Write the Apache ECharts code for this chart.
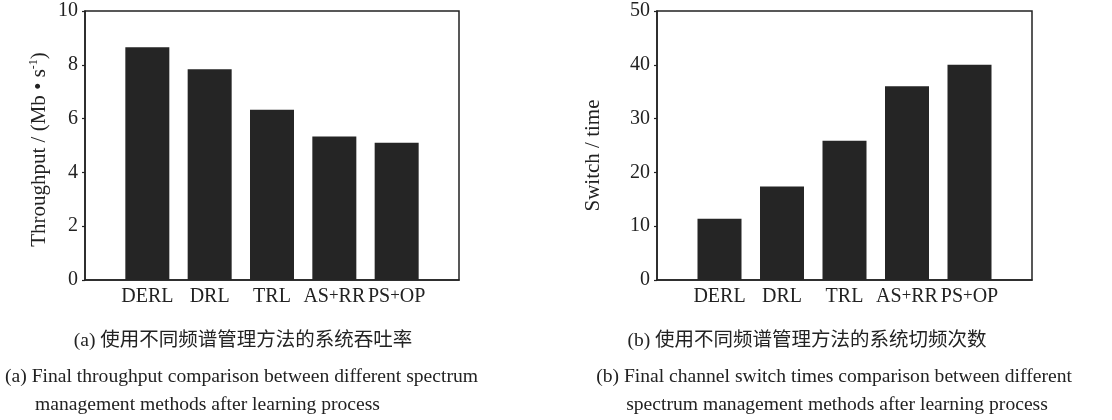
<!DOCTYPE html>
<html>
<head>
<meta charset="utf-8">
<script src="https://cdn.jsdelivr.net/npm/echarts@6/dist/echarts.min.js"></script>
<style>
html,body{margin:0;padding:0;background:#fff;}
#c{width:1112px;height:420px;}
</style>
</head>
<body>
<div id="c"></div>
<script>
// ---- data ----
var methods = ['DERL', 'DRL', 'TRL', 'AS+RR', 'PS+OP'];
var throughput = [8.65, 7.83, 6.33, 5.33, 5.10];
var switchTimes = [11.4, 17.4, 25.9, 36.0, 40.0];
var throughputTicks = { min: 0, max: 10, interval: 2 };
var switchTicks = { min: 0, max: 50, interval: 10 };
var captionA_cn = '(a) 使用不同频谱管理方法的系统吞吐率';
var captionA_en1 = '(a) Final throughput comparison between different spectrum';
var captionA_en2 = 'management methods after learning process';
var captionB_cn = '(b) 使用不同频谱管理方法的系统切频次数';
var captionB_en1 = '(b) Final channel switch times comparison between different';
var captionB_en2 = 'spectrum management methods after learning process';

// ---- build ----
var serif = '"Liberation Serif", "Times New Roman", serif';
var ink = '#222';
var cats = [''].concat(methods, ['']);
function pad(arr) { return [null].concat(arr, [null]); }

function xAxis(gi) {
  return {
    type: 'category', gridIndex: gi, data: cats, boundaryGap: false,
    axisLine: { lineStyle: { color: ink, width: 1.5 } },
    axisTick: { show: false },
    axisLabel: {
      color: ink, fontFamily: serif, fontSize: 20, margin: 7, interval: 0,
      formatter: function (v) {
        return v.split('+').map(function (s) { return '{n|' + s + '}'; }).join('{p|+}');
      },
      rich: {
        n: { fontFamily: serif, fontSize: 20, color: ink },
        p: { fontFamily: serif, fontSize: 17, color: ink, padding: [0, 0, 3, 0] }
      }
    },
    splitLine: { show: false }
  };
}
function yAxis(gi, t, name, gap, shift) {
  return {
    type: 'value', gridIndex: gi, min: t.min, max: t.max, interval: t.interval,
    name: name, nameLocation: 'middle', nameGap: gap,
    nameTextStyle: {
      color: ink, fontFamily: serif, fontSize: 21, padding: [0, shift, 0, 0],
      rich: { sup: { fontFamily: serif, fontSize: 12, color: ink, verticalAlign: 'top', padding: [0, 0, 10, 0] },
              n: { fontFamily: serif, fontSize: 21, color: ink } }
    },
    axisLine: { show: true, lineStyle: { color: ink, width: 1.5 } },
    axisTick: { show: true, inside: false, length: 3, lineStyle: { color: ink, width: 1.2 } },
    axisLabel: { color: ink, fontFamily: serif, fontSize: 20, margin: 7 },
    splitLine: { show: false }
  };
}
function caption(x, y, text, cn, align) {
  return {
    type: 'text', x: x, y: y,
    style: {
      text: text, fill: ink,
      font: (cn ? '19.5px "Liberation Serif", "Noto Sans CJK SC", serif' : '19.6px ' + serif),
      textAlign: align || 'center', textVerticalAlign: 'middle'
    }
  };
}

var chart = echarts.init(document.getElementById('c'), null, { renderer: 'canvas' });
chart.setOption({
  animation: false,
  backgroundColor: '#fff',
  grid: [
    { left: 85, right: 653, top: 11, bottom: 140, show: true, borderColor: ink, borderWidth: 1.5, backgroundColor: 'transparent' },
    { left: 657, right: 80, top: 11, bottom: 140, show: true, borderColor: ink, borderWidth: 1.5, backgroundColor: 'transparent' }
  ],
  xAxis: [xAxis(0), xAxis(1)],
  yAxis: [
    yAxis(0, throughputTicks, '{n|Throughput / (Mb • s}{sup|-1}{n|)}', 35, 8),
    yAxis(1, switchTicks, 'Switch / time', 53, 20)
  ],
  series: [
    { type: 'bar', xAxisIndex: 0, yAxisIndex: 0, data: pad(throughput), barWidth: 44,
      itemStyle: { color: '#252525' } },
    { type: 'bar', xAxisIndex: 1, yAxisIndex: 1, data: pad(switchTimes), barWidth: 44,
      itemStyle: { color: '#252525' } }
  ],
  graphic: [
    caption(243, 341, captionA_cn, true),
    caption(5, 377, captionA_en1, false, 'left'),
    caption(35, 405, captionA_en2, false, 'left'),
    caption(807, 341, captionB_cn, true),
    caption(834, 377, captionB_en1, false),
    caption(837, 405, captionB_en2, false)
  ]
});
</script>
</body>
</html>
